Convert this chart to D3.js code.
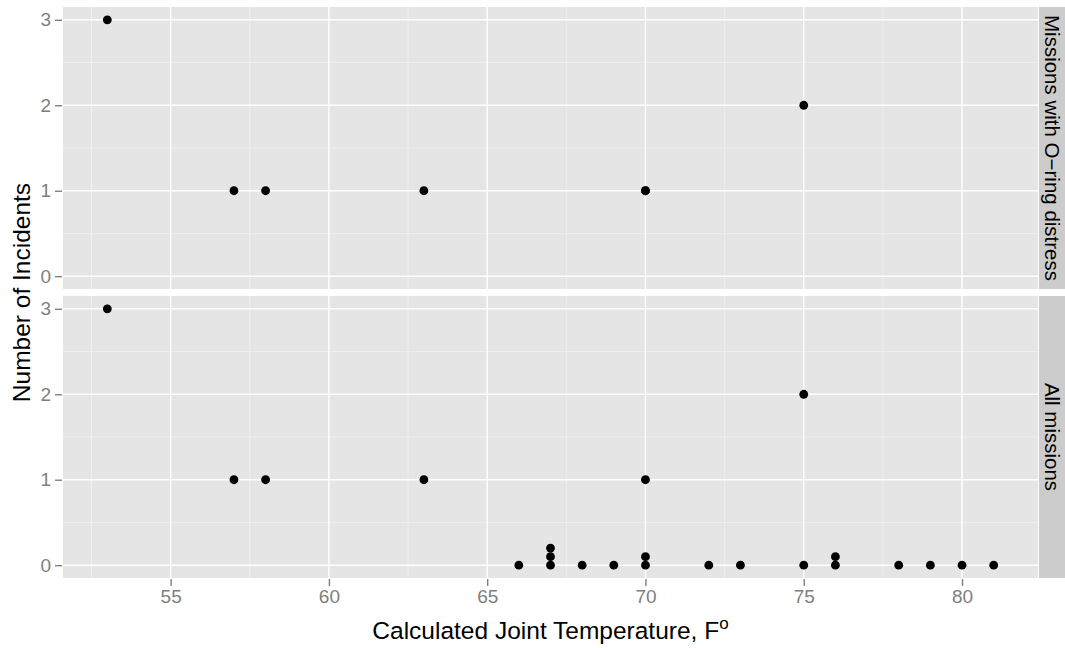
<!DOCTYPE html>
<html>
<head>
<meta charset="utf-8">
<script src="https://cdnjs.cloudflare.com/ajax/libs/d3/7.8.5/d3.min.js"></script>
<style>
  body { margin: 0; background: #fff; }
  svg { font-family: "Liberation Sans", Arial, sans-serif; }
</style>
</head>
<body>
<div id="chart"></div>
<script>
// panel labels
var facets = ["Missions with O\u2212ring distress", "All missions"];

// missions with distress (top panel)
var distressTemp = [53, 57, 58, 63, 70, 70, 75];
var distressCount = [3, 1, 1, 1, 1, 1, 2];

// all missions (bottom panel), duplicates nudged up by 0.1 as in the original
var allTemp = [53, 57, 58, 63, 66, 67, 67, 67, 68, 69, 70, 70, 70, 72, 73, 75, 75, 76, 76, 78, 79, 80, 81];
var allCount = [3, 1, 1, 1, 0, 0, 0.1, 0.2, 0, 0, 0, 0.1, 1, 0, 0, 0, 2, 0, 0.1, 0, 0, 0, 0];

var xTicks = [55, 60, 65, 70, 75, 80];
var xMinor = [52.5, 57.5, 62.5, 67.5, 72.5, 77.5, 82.5];
var yTicks = [0, 1, 2, 3];
var yMinor = [0.5, 1.5, 2.5];

var W = 1065, H = 648;
var margin = {top: 7, right: 27, bottom: 70, left: 63};
var gap = 7;
var width = W - margin.left - margin.right;
var panelH = (H - margin.top - margin.bottom - gap) / 2;

var svg = d3.select("#chart").append("svg")
    .attr("width", W)
    .attr("height", H);

var x = d3.scaleLinear()
    .domain([51.6, 82.4])
    .range([0, width]);

var y = d3.scaleLinear()
    .domain([-0.15, 3.15])
    .range([panelH, 0]);

var panels = [
  {label: facets[0], xs: distressTemp, ys: distressCount},
  {label: facets[1], xs: allTemp, ys: allCount}
];

panels.forEach(function (p, k) {
  var top = margin.top + k * (panelH + gap);
  var g = svg.append("g")
      .attr("transform", "translate(" + margin.left + "," + top + ")");

  g.append("rect")
      .attr("width", width)
      .attr("height", panelH)
      .attr("fill", "#E5E5E5");

  // minor grid
  g.selectAll(".xminor").data(xMinor).enter().append("line")
      .attr("x1", function (d) { return x(d); })
      .attr("x2", function (d) { return x(d); })
      .attr("y1", 0).attr("y2", panelH)
      .attr("stroke", "#F2F2F2").attr("stroke-width", 0.7);
  g.selectAll(".yminor").data(yMinor).enter().append("line")
      .attr("x1", 0).attr("x2", width)
      .attr("y1", function (d) { return y(d); })
      .attr("y2", function (d) { return y(d); })
      .attr("stroke", "#F2F2F2").attr("stroke-width", 0.7);

  // major grid
  g.selectAll(".xmajor").data(xTicks).enter().append("line")
      .attr("x1", function (d) { return x(d); })
      .attr("x2", function (d) { return x(d); })
      .attr("y1", 0).attr("y2", panelH)
      .attr("stroke", "#fff").attr("stroke-width", 1.4);
  g.selectAll(".ymajor").data(yTicks).enter().append("line")
      .attr("x1", 0).attr("x2", width)
      .attr("y1", function (d) { return y(d); })
      .attr("y2", function (d) { return y(d); })
      .attr("stroke", "#fff").attr("stroke-width", 1.4);

  // y axis
  var yAxis = g.append("g")
      .attr("transform", "translate(-1,0)")
      .call(d3.axisLeft(y).tickValues(yTicks).tickFormat(d3.format("d")).tickSize(7).tickPadding(4));
  yAxis.select(".domain").remove();
  yAxis.selectAll("line").attr("stroke", "#7F7F7F").attr("stroke-width", 1.4);
  yAxis.selectAll("text")
      .attr("fill", "#7F7F7F")
      .style("font-size", "19px");

  // x axis only under bottom panel
  if (k === panels.length - 1) {
    var xAxis = g.append("g")
        .attr("transform", "translate(0," + (panelH + 1) + ")")
        .call(d3.axisBottom(x).tickValues(xTicks).tickSize(7).tickPadding(4));
    xAxis.select(".domain").remove();
    xAxis.selectAll("line").attr("stroke", "#7F7F7F").attr("stroke-width", 1.4);
    xAxis.selectAll("text")
        .attr("fill", "#7F7F7F")
        .style("font-size", "19px");
  }

  // points
  g.selectAll("circle").data(p.xs).enter().append("circle")
      .attr("cx", function (d) { return x(d); })
      .attr("cy", function (d, i) { return y(p.ys[i]); })
      .attr("r", 4.4)
      .attr("fill", "#000");

  // strip
  var stripW = W - margin.left - width - 1;
  var strip = svg.append("g")
      .attr("transform", "translate(" + (margin.left + width + 1) + "," + top + ")");
  strip.append("rect")
      .attr("width", stripW)
      .attr("height", panelH)
      .attr("fill", "#CCCCCC");
  strip.append("text")
      .attr("transform", "translate(" + (stripW / 2) + "," + (panelH / 2) + ") rotate(90)")
      .attr("text-anchor", "middle")
      .attr("dy", "0.35em")
      .style("font-size", "20.5px")
      .attr("fill", "#000")
      .text(p.label);
});

// axis titles
var xt = svg.append("text")
    .attr("x", margin.left + width / 2)
    .attr("y", 639)
    .attr("text-anchor", "middle")
    .style("font-size", "24.5px")
    .attr("fill", "#000");
xt.append("tspan").text("Calculated Joint Temperature, F");
xt.append("tspan").attr("dy", "-10").style("font-size", "17px").text("o");

svg.append("text")
    .attr("transform", "translate(21," + (margin.top + panelH + gap / 2) + ") rotate(-90)")
    .attr("text-anchor", "middle")
    .attr("dy", "0.35em")
    .style("font-size", "24.5px")
    .attr("fill", "#000")
    .text("Number of Incidents");
</script>
</body>
</html>
